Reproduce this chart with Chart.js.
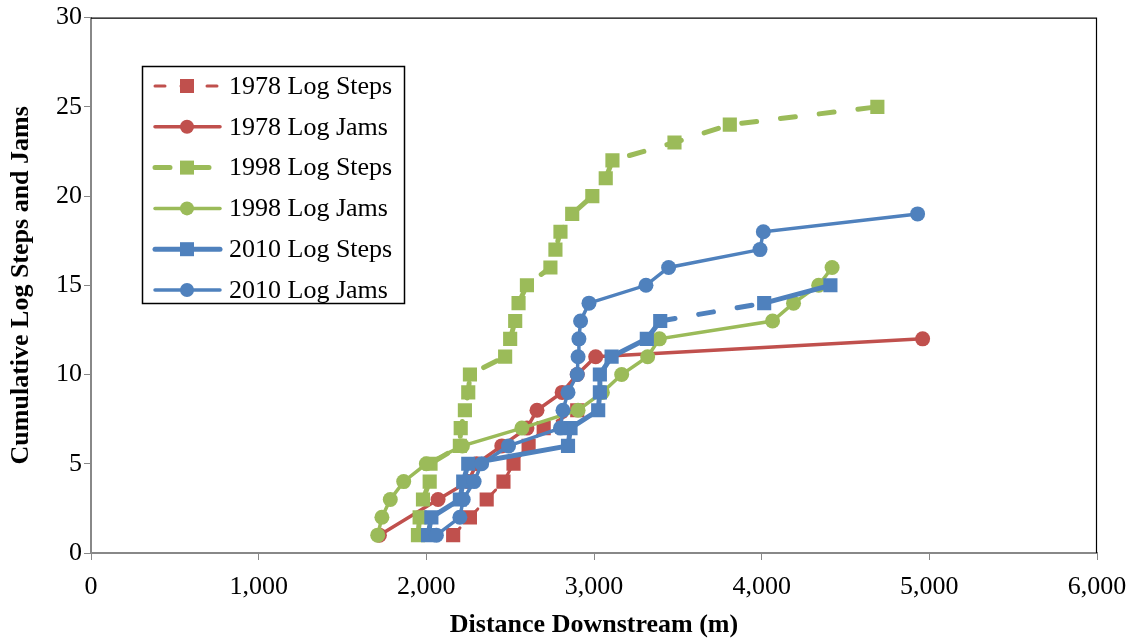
<!DOCTYPE html>
<html>
<head>
<meta charset="utf-8">
<script src="https://cdn.jsdelivr.net/npm/chart.js@4.4.1/dist/chart.umd.min.js"></script>
<style>
  html, body { margin: 0; padding: 0; background: #ffffff; }
  #wrap { width: 1131px; height: 641px; position: relative; }
</style>
</head>
<body>
<div id="wrap"><canvas id="grafica"></canvas></div>
<script>
const xTicks = [0, 1000, 2000, 3000, 4000, 5000, 6000];
const yTicks = [0, 5, 10, 15, 20, 25, 30];

const steps1978X = [2160, 2260, 2360, 2460, 2520, 2610, 2700, 2900];
const steps1978Y = [1, 2, 3, 4, 5, 6, 7, 8];

const jams1978X = [1720, 2070, 2250, 2300, 2450, 2600, 2660, 2810, 2900, 3010, 4960];
const jams1978Y = [1, 3, 4, 5, 6, 7, 8, 9, 10, 11, 12];

const steps1998X = [1950, 1960, 1980, 2020, 2025, 2200, 2205, 2230, 2250, 2260, 2470, 2500, 2530, 2550, 2600, 2740, 2770, 2800, 2870, 2990, 3070, 3110, 3480, 3810, 4690];
const steps1998Y = [1, 2, 3, 4, 5, 6, 7, 8, 9, 10, 11, 12, 13, 14, 15, 16, 17, 18, 19, 20, 21, 22, 23, 24, 25];

const jams1998X = [1710, 1735, 1785, 1865, 2000, 2215, 2570, 2905, 3050, 3165, 3320, 3390, 4065, 4190, 4340, 4420];
const jams1998Y = [1, 2, 3, 4, 5, 6, 7, 8, 9, 10, 11, 12, 13, 14, 15, 16];

const steps2010X = [2010, 2030, 2200, 2220, 2250, 2845, 2860, 3025, 3035, 3035, 3105, 3315, 3395, 4015, 4410];
const steps2010Y = [1, 2, 3, 4, 5, 6, 7, 8, 9, 10, 11, 12, 13, 14, 15];

const jams2010X = [2060, 2200, 2220, 2285, 2330, 2490, 2800, 2815, 2845, 2900, 2905, 2910, 2920, 2970, 3310, 3445, 3990, 4010, 4930];
const jams2010Y = [1, 2, 3, 4, 5, 6, 7, 8, 9, 10, 11, 12, 13, 14, 15, 16, 17, 18, 19];

const rojo = '#C0504D';
const verde = '#9BBB59';
const azul = '#4F81BD';

function puntos(xs, ys) {
    return xs.map((x, i) => ({ x: x, y: ys[i] }));
}

const fuenteSerif = "'Liberation Serif', 'Times New Roman', serif";

// legend drawn inside the plot, Excel style
const leyendaInterna = {
    id: 'leyendaInterna',
    afterDraw(chart) {
        const ctx = chart.ctx;
        ctx.save();
        ctx.strokeStyle = '#000000';
        ctx.lineWidth = 1.5;
        ctx.strokeRect(142.5, 66.5, 262, 237);
        chart.data.datasets.forEach((ds, i) => {
            const y = 86 + i * 40.8;
            ctx.beginPath();
            ctx.setLineDash(ds.borderDash || []);
            ctx.lineCap = 'round';
            ctx.strokeStyle = ds.borderColor;
            ctx.lineWidth = ds.borderWidth;
            ctx.moveTo(155, y);
            ctx.lineTo(220, y);
            ctx.stroke();
            ctx.setLineDash([]);
            ctx.fillStyle = ds.pointBackgroundColor;
            if (ds.pointStyle === 'rect') {
                ctx.fillRect(187 - 7, y - 7, 14, 14);
            } else {
                ctx.beginPath();
                ctx.arc(187, y, 7, 0, Math.PI * 2);
                ctx.fill();
            }
            ctx.fillStyle = '#000000';
            ctx.font = '26px ' + fuenteSerif;
            ctx.textBaseline = 'middle';
            ctx.textAlign = 'left';
            ctx.fillText(ds.label, 229, y + 1);
        });
        ctx.restore();
    }
};

// black frame on top and right of the plot
const marcoGrafica = {
    id: 'marcoGrafica',
    beforeDatasetsDraw(chart) {
        const a = chart.chartArea;
        const ctx = chart.ctx;
        ctx.save();
        ctx.strokeStyle = '#000000';
        ctx.lineWidth = 1.2;
        ctx.beginPath();
        ctx.moveTo(a.left, a.top + 0.5);
        ctx.lineTo(a.right - 0.5, a.top + 0.5);
        ctx.lineTo(a.right - 0.5, a.bottom);
        ctx.stroke();
        ctx.restore();
    }
};

function serie(label, xs, ys, color, estilo, grosor, guiones, orden) {
    return {
        label: label,
        data: puntos(xs, ys),
        borderColor: color,
        backgroundColor: color,
        pointBackgroundColor: color,
        pointBorderColor: color,
        pointBorderWidth: 0,
        pointStyle: estilo,
        pointRadius: estilo === 'rect' ? 10 : 7.5,
        pointHoverRadius: 10,
        borderWidth: grosor,
        borderDash: guiones || [],
        borderCapStyle: 'round',
        fill: false,
        tension: 0,
        order: orden
    };
}

const datos2010Steps = serie('2010 Log Steps', steps2010X, steps2010Y, azul, 'rect', 5, null, 2);
datos2010Steps.segment = {
    borderDash: ctx => ctx.p0DataIndex === 12 ? [15, 24] : undefined
};

const contexto = document.getElementById('grafica');
new Chart(contexto, {
    type: 'line',
    data: {
        datasets: [
            serie('1978 Log Steps', steps1978X, steps1978Y, rojo, 'rect', 3, [10, 16], 6),
            serie('1978 Log Jams', jams1978X, jams1978Y, rojo, 'circle', 3.5, null, 5),
            serie('1998 Log Steps', steps1998X, steps1998Y, verde, 'rect', 5, [15, 24], 4),
            serie('1998 Log Jams', jams1998X, jams1998Y, verde, 'circle', 3.5, null, 3),
            datos2010Steps,
            serie('2010 Log Jams', jams2010X, jams2010Y, azul, 'circle', 3.5, null, 1)
        ]
    },
    options: {
        responsive: true,
        maintainAspectRatio: false,
        animation: false,
        layout: {
            padding: { left: 6, right: 34, top: 12, bottom: 0 }
        },
        plugins: {
            legend: { display: false },
            tooltip: { enabled: true }
        },
        scales: {
            x: {
                type: 'linear',
                min: 0,
                max: 6000,
                afterBuildTicks: scale => { scale.ticks = xTicks.map(v => ({ value: v })); },
                afterFit: scale => {
                    scale.height = 88;
                    scale.paddingLeft = 0;
                    scale.paddingRight = 0;
                },
                grid: {
                    display: true,
                    drawOnChartArea: false,
                    tickLength: 7,
                    color: '#888888'
                },
                border: { color: '#888888', width: 2 },
                ticks: {
                    color: '#000000',
                    padding: 12,
                    maxRotation: 0,
                    font: { family: fuenteSerif, size: 26 },
                    callback: v => v.toLocaleString('en-US')
                },
                title: {
                    display: true,
                    text: 'Distance Downstream (m)',
                    color: '#000000',
                    padding: { top: 6, bottom: 0 },
                    font: { family: fuenteSerif, size: 26, weight: 'bold' }
                }
            },
            y: {
                type: 'linear',
                min: 0,
                max: 30,
                afterBuildTicks: scale => { scale.ticks = yTicks.map(v => ({ value: v })); },
                afterFit: scale => { scale.width = 85; },
                grid: {
                    display: true,
                    drawOnChartArea: false,
                    tickLength: 7,
                    color: '#888888'
                },
                border: { color: '#888888', width: 2 },
                ticks: {
                    color: '#000000',
                    padding: 2,
                    font: { family: fuenteSerif, size: 26 }
                },
                title: {
                    display: true,
                    text: 'Cumulative Log Steps and Jams',
                    color: '#000000',
                    padding: { top: 0, bottom: 4 },
                    font: { family: fuenteSerif, size: 26, weight: 'bold' }
                }
            }
        }
    },
    plugins: [marcoGrafica, leyendaInterna]
});
</script>
</body>
</html>
